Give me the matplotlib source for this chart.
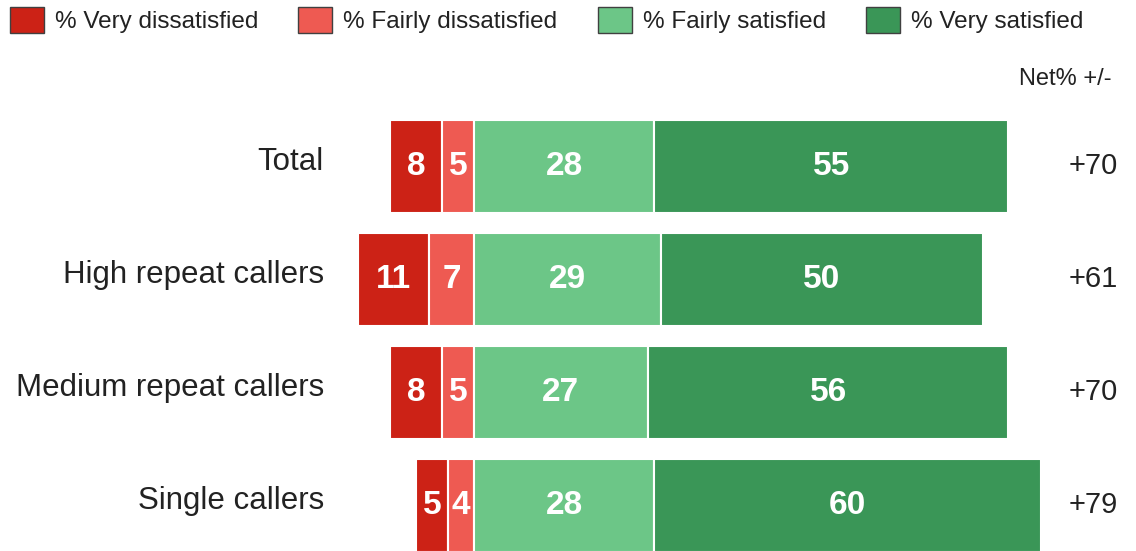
import matplotlib.pyplot as plt
import numpy as np
from matplotlib.patches import Patch

plt.rcParams["font.family"] = ["Liberation Sans", "DejaVu Sans"]

GROUPS = ["Total", "High repeat callers", "Medium repeat callers", "Single callers"]
VERY_DISSAT = [8, 11, 8, 5]
FAIRLY_DISSAT = [5, 7, 5, 4]
FAIRLY_SAT = [28, 29, 27, 28]
VERY_SAT = [55, 50, 56, 60]
NET = ["+70", "+61", "+70", "+79"]

LEGEND_LABELS = ["% Very dissatisfied", "% Fairly dissatisfied",
                 "% Fairly satisfied", "% Very satisfied"]
COLORS = ["#cc2216", "#ee5a52", "#6cc687", "#3a9657"]


def main():
    fig = plt.figure(figsize=(11.36, 5.51), dpi=100)
    ax = fig.add_axes([0, 0, 1, 1])
    ax.set_xlim(-73.6, 102.8)
    ax.set_ylim(3.404, -1.47)
    ax.axis("off")

    y = np.arange(len(GROUPS))
    vd = np.array(VERY_DISSAT)
    fd = np.array(FAIRLY_DISSAT)
    fs = np.array(FAIRLY_SAT)
    vs = np.array(VERY_SAT)

    segments = [
        (-(vd + fd), vd, COLORS[0]),
        (-fd, fd, COLORS[1]),
        (np.zeros(len(fs)), fs, COLORS[2]),
        (fs, vs, COLORS[3]),
    ]
    for left, width, color in segments:
        bars = ax.barh(y, width, left=left, height=0.82, color=color,
                       edgecolor="white", linewidth=1.5)
        for bar, w in zip(bars, width):
            ax.text(bar.get_x() + bar.get_width() / 2, bar.get_y() + bar.get_height() / 2,
                    str(w), ha="center", va="center", color="white",
                    fontsize=24, fontweight="bold")

    for i, name in enumerate(GROUPS):
        ax.text(-23.3, i - 0.04, name, ha="right", va="center",
                fontsize=22.5, color="#222222")
        ax.text(96.2, i, NET[i], ha="center", va="center",
                fontsize=21, color="#222222")

    ax.text(91.8, -0.77, "Net% +/-", ha="center", va="center",
            fontsize=17, color="#222222")

    handles = [Patch(facecolor=c, edgecolor="#404040", linewidth=1) for c in COLORS]
    fig.legend(handles, LEGEND_LABELS, loc="center left",
               bbox_to_anchor=(0.0088, 0.963), ncol=4, frameon=False,
               fontsize=17.5, handlelength=1.4, handleheight=1.25,
               handletextpad=0.45, columnspacing=1.65, borderpad=0,
               borderaxespad=0, labelcolor="#222222")

    fig.savefig("out.png", dpi=100)


if __name__ == "__main__":
    main()
